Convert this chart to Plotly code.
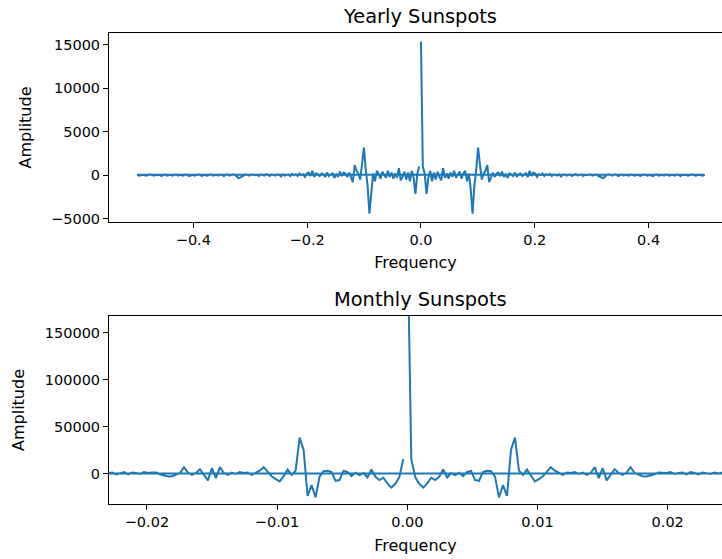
import numpy as np
import plotly.graph_objects as go
from plotly.subplots import make_subplots

# ---------------- data ----------------
# Real part of the FFT of yearly sunspot numbers, for k = 0..154 (N = 309).
# The spectrum of a real series is even, so negative frequencies mirror these.
yearly_n = 309
yearly_pos = [
    15370, 1000, 200, -2150, -300, 500, -700, 300, -500, 400,
    -200, -600, 800, -300, 200, -400, 300, -200, 500, -300,
    100, 400, -400, 200, 500, -700, 200, -1600, -4420, -1200,
    700, 3170, 1300, -500, 200, 500, 1150, -800, -300, 300,
    -200, 200, 300, -100, 400, -200, 100, -300, 200, 100,
    -100, 300, -200, 100, 200, -100, 100, 200, -200, 500,
    -100, 300, 200, -200, 100, 0, 200, -100, 100, 0,
    150, -100, 100, 50, -50, 100, -150, 50, 100, -50,
    0, 100, -100, 50, 150, -50, 0, 100, -100, 50,
    0, 50, 100, -50, 0, 100, -50, -150, -250, -350,
    -150, 50, 100, 0, -50, 100, 50, -100, 0, 100,
    -50, 50, 0, -50, 100, 50, -50, 0, 50, -100,
    50, 100, 0, -50, 50, 0, -100, 50, 100, -50,
    0, 50, -50, 100, 0, -50, 50, 0, -50, 100,
    0, -100, 50, 0, 50, -50, 0, 100, 50, -50,
    0, 50, 0, -50, 50,
]

# Real part of the FFT of monthly sunspot numbers (N = 3265), k = 0..80
monthly_n = 3265
monthly_pos = [
    267000, 15300, -4000, -11000, -15000, -10500, -4500, -7000, -3500, 4200,
    -4200, 500, -1800, 700, -2800, 1800, 2800, -7000, -7800, 1800,
    2800, 2500, -3500, -25400, -12400, -24000, 25000, 38200, 3000, -1500,
    4200, -2800, -8500, -6000, -3000, 2000, 6700, 3000, 500, -1500,
    1000, 500, 1500, -500, 1000, -1500, 500, 6700, -5000, 5600,
    -7400, -1500, 4600, 500, -1500, 1000, 6700, 500, -1000, -3000,
    -3200, -2500, -1000, 1000, 1000, 500, 1500, -500, 500, 1000,
    -1000, 1500, 500, -1000, 1000, 500, -500, 1000, 0, 800,
    300,
]
monthly_nyquist = [0, 0]  # values next to +0.5 and -0.5

# ---------------- build series in fftfreq order ----------------
yf = np.fft.fftfreq(yearly_n)
yy = yearly_pos + yearly_pos[1:][::-1]

mf_all = np.fft.fftfreq(monthly_n)
K = len(monthly_pos) - 1
half = monthly_n // 2
mx = list(mf_all[0:K + 1]) + [mf_all[half], mf_all[half + 1]] + list(mf_all[monthly_n - K:])
my = monthly_pos + monthly_nyquist + monthly_pos[1:][::-1]

# ---------------- figure ----------------
BLUE = "#1f77b4"
FONT = "DejaVu Sans"
TICK = 14.5
LABEL = 16
TITLE = 19.4

fig = make_subplots(rows=2, cols=1)
fig.add_trace(go.Scatter(x=yf, y=yy, mode="lines", line=dict(color=BLUE, width=2),
                         showlegend=False, hoverinfo="skip"), row=1, col=1)
fig.add_trace(go.Scatter(x=mx, y=my, mode="lines", line=dict(color=BLUE, width=2),
                         showlegend=False, hoverinfo="skip"), row=2, col=1)

axis_common = dict(showgrid=False, zeroline=False, showline=True, linecolor="black",
                   linewidth=1, ticks="outside", ticklen=5, tickwidth=1, tickcolor="black",
                   tickfont=dict(family=FONT, size=TICK, color="black"))

fig.update_layout(
    width=722, height=559,
    margin=dict(l=109, r=0, t=33, b=55),
    plot_bgcolor="white", paper_bgcolor="white",
    font=dict(family=FONT, size=TICK, color="black"),
    xaxis=dict(domain=[0, 1], range=[-0.5482, 0.5289], dtick=0.2, tick0=0,
               tickformat=".1f", mirror=True,
               title=dict(text="Frequency", font=dict(family=FONT, size=LABEL), standoff=9),
               **axis_common),
    yaxis=dict(domain=[0.5987, 1], range=[-5390, 16360], dtick=5000, tick0=0,
               tickformat="d",
               title=dict(text="Amplitude", font=dict(family=FONT, size=LABEL), standoff=15),
               **axis_common),
    xaxis2=dict(domain=[0, 1], range=[-0.02291, 0.02417], dtick=0.01, tick0=0,
                tickformat=".2f", mirror=True,
                title=dict(text="Frequency", font=dict(family=FONT, size=LABEL), standoff=10),
                **axis_common),
    yaxis2=dict(domain=[0, 0.3992], range=[-32500, 167700], dtick=50000, tick0=0,
                tickformat="d",
                title=dict(text="Amplitude", font=dict(family=FONT, size=LABEL), standoff=16),
                **axis_common),
    annotations=[
        dict(text="Yearly Sunspots", x=0.5078, y=1, xref="paper", yref="paper",
             xanchor="center", yanchor="bottom", yshift=3, showarrow=False,
             font=dict(family=FONT, size=TITLE, color="black")),
        dict(text="Monthly Sunspots", x=0.5078, y=0.3992, xref="paper", yref="paper",
             xanchor="center", yanchor="bottom", yshift=3, showarrow=False,
             font=dict(family=FONT, size=TITLE, color="black")),
    ],
)

fig.write_html("out.html")
